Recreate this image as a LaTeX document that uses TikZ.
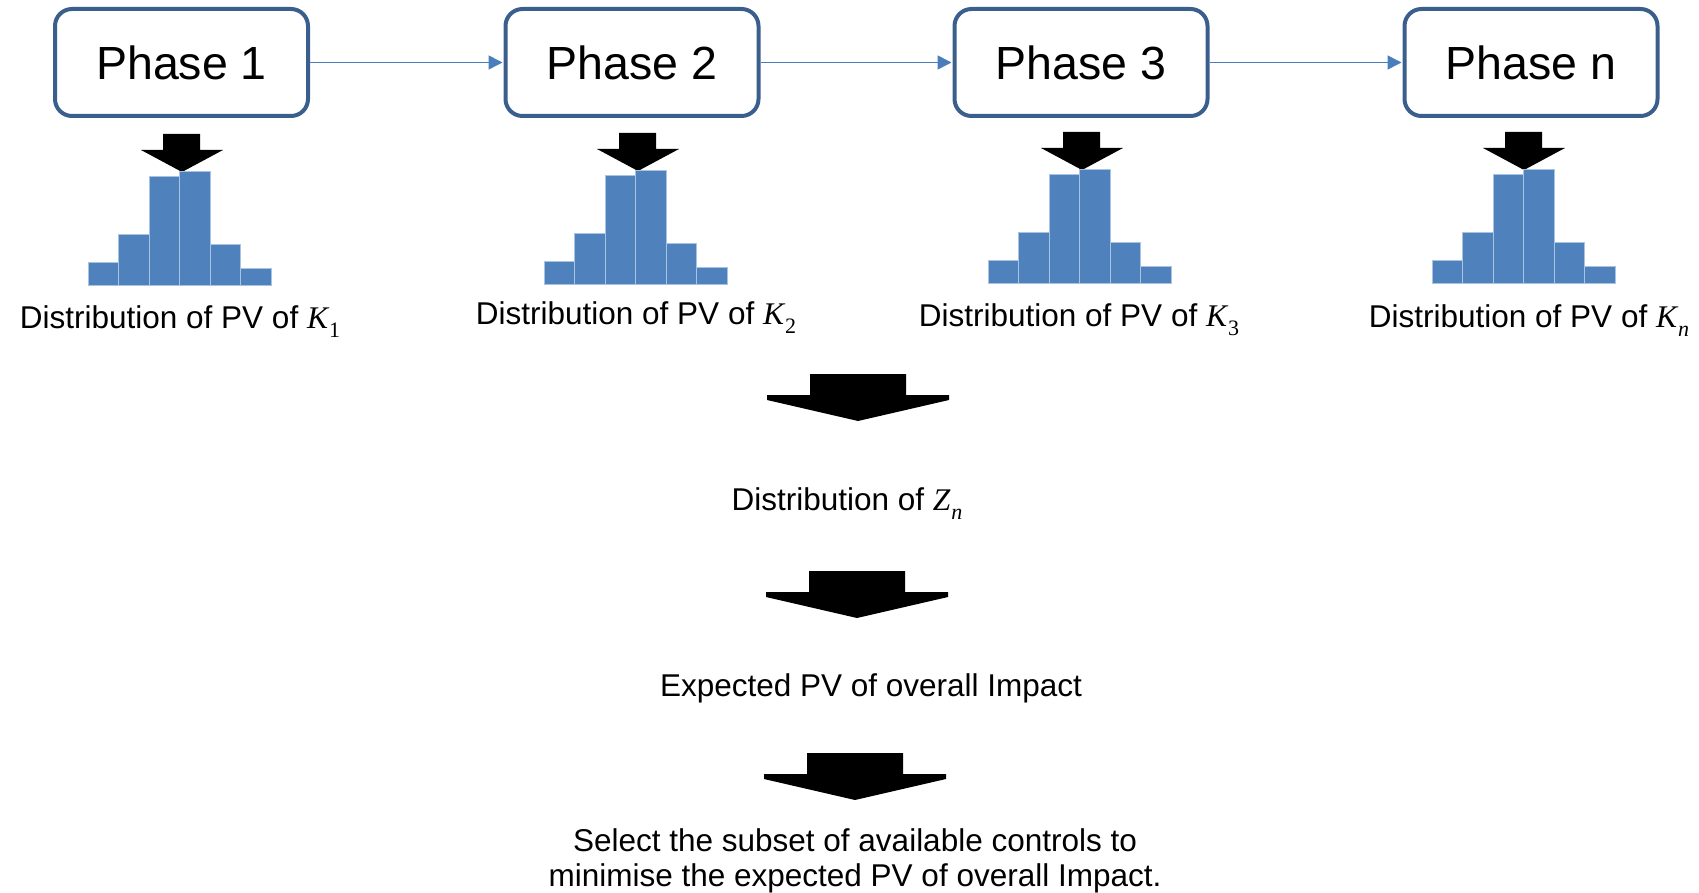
\documentclass[tikz,border=0pt]{standalone}
\usepackage{fontspec}
\setmainfont{Liberation Sans}
\newfontfamily\varfont{Liberation Serif}
\usetikzlibrary{arrows.meta}

\definecolor{boxline}{HTML}{3B5F8C}
\definecolor{barfill}{HTML}{4F81BD}
\definecolor{barline}{HTML}{A9C3E3}
\definecolor{linkblue}{HTML}{4A7EBB}

% italic variable with a lowered index
\newcommand\indexedvar[2]{{\varfont\itshape #1}\kern1pt\raisebox{-0.3em}{\fontsize{22}{22}\selectfont\varfont #2}}

\tikzset{
  phase/.style={draw=boxline, line width=4pt, rounded corners=17pt,
    minimum width=253pt, minimum height=107pt, inner sep=0pt,
    font=\fontsize{46.5}{56}\selectfont},
  link/.style={draw=linkblue, line width=1.6pt,
    -{Triangle[length=14pt,width=14pt]}, shorten >=1pt},
  caption/.style={anchor=base, inner sep=0pt,
    font=\fontsize{31.5}{35}\selectfont},
  bar/.style={fill=barfill, draw=barline, line width=1pt},
  pics/hist/.style={code={
    \foreach \h [count=\i from 0] in {22,50,108,113,40,16}
      \path[bar] (\i*30.5,0) rectangle ++(30.5,-\h);
  }},
  pics/smalldown/.style={code={
    \fill (0,0) -- (-41,-22) -- (-19,-22) -- (-19,-38) -- (18,-38)
      -- (18,-22) -- (41,-22) -- cycle;
  }},
  pics/bigdown/.style={code={
    \fill (0,0) -- (-91,-21) -- (-91,-26) -- (-48,-26) -- (-48,-47)
      -- (48,-47) -- (48,-26) -- (91,-26) -- (91,-21) -- cycle;
  }}
}

\begin{document}
\begin{tikzpicture}[x=1pt, y=-1pt]
\useasboundingbox (0,0) rectangle (1699,893);

% phases
\node[phase] (p1) at (181.5,62.5) {Phase 1};
\node[phase] (p2) at (632,62.5) {Phase 2};
\node[phase] (p3) at (1081,62.5) {Phase 3};
\node[phase] (pn) at (1531,62.5) {Phase n};

\draw[link] (p1) -- (p2);
\draw[link] (p2) -- (p3);
\draw[link] (p3) -- (pn);

% per-phase distributions
\coordinate (t1) at (182,172);
\coordinate (t2) at (638,171);
\coordinate (t3) at (1082,170);
\coordinate (t4) at (1524,170);
\pic at (t1) {smalldown};
\pic at (t2) {smalldown};
\pic at (t3) {smalldown};
\pic at (t4) {smalldown};

\pic at (88,285) {hist};
\pic at (544,284) {hist};
\pic at (988,283) {hist};
\pic at (1432,283) {hist};

\node[caption] (d1) at (180,328) {Distribution of PV of \indexedvar{K}{1}};
\node[caption] (d2) at (636,324) {Distribution of PV of \indexedvar{K}{2}};
\node[caption] (d3) at (1079,326) {Distribution of PV of \indexedvar{K}{3}};
\node[caption] (dn) at (1529,327) {Distribution of PV of \indexedvar{K}{\itshape n}};

% aggregation steps
\coordinate (b1) at (858,421);
\coordinate (b2) at (857,618);
\coordinate (b3) at (855,800);
\pic at (b1) {bigdown};
\pic at (b2) {bigdown};
\pic at (b3) {bigdown};

\node[caption] (zdist) at (847,510) {Distribution of \indexedvar{Z}{\itshape n}};
\node[caption] (expect) at (871,696) {Expected PV of overall Impact};
\node[caption, anchor=north, align=center] (select) at (855,828)
  {Select the subset of available controls to\\minimise the expected PV of overall Impact.};
\end{tikzpicture}
\end{document}
